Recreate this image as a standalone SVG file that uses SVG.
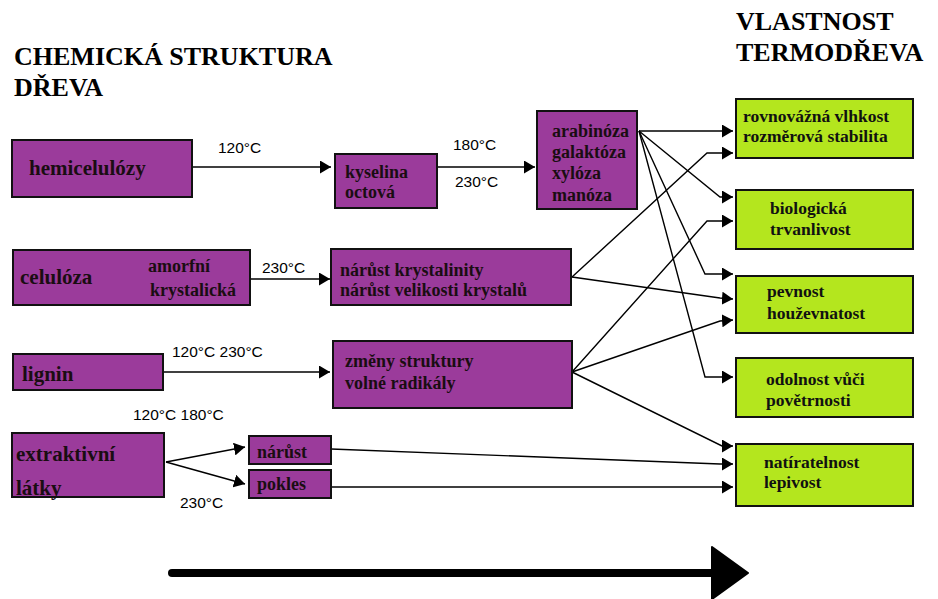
<svg xmlns="http://www.w3.org/2000/svg" width="938" height="599" viewBox="0 0 938 599">
<style>
.title{font-family:"Liberation Serif","Times New Roman",serif;font-weight:bold;font-size:26px;fill:#000}
.p{fill:#9B3B9B;stroke:#111;stroke-width:2}
.g{fill:#B4E61E;stroke:#111;stroke-width:2}
.tl{font-family:"Liberation Serif","Times New Roman",serif;font-weight:bold;font-size:21px;fill:#1a0d12}
.tm{font-family:"Liberation Serif","Times New Roman",serif;font-weight:bold;font-size:18px;fill:#1a0d12}
.tg{font-family:"Liberation Serif","Times New Roman",serif;font-weight:bold;font-size:17.5px;fill:#111}
.deg{font-family:"Liberation Sans",Arial,sans-serif;font-size:15.5px;fill:#000}
.c{fill:none;stroke:#000;stroke-width:1.4;marker-end:url(#ah)}
</style>
<defs>
<marker id="ah" viewBox="0 0 11 13" refX="11" refY="6.5" markerWidth="11" markerHeight="13" markerUnits="userSpaceOnUse" orient="auto">
<path d="M0,0 L11,6.5 L0,13 z" fill="#000"/>
</marker>
</defs>
<rect width="938" height="599" fill="#fff"/>

<g id="titles">
<text class="title" x="14" y="65">CHEMICKÁ STRUKTURA</text>
<text class="title" x="14" y="96">DŘEVA</text>
<text class="title" x="736" y="30" font-size="25.5">VLASTNOST</text>
<text class="title" x="736" y="61" font-size="25.5">TERMODŘEVA</text>
</g>

<g id="connectors">
<polyline class="c" points="192,167 331,167"/>
<polyline class="c" points="437,167 535,167"/>
<polyline class="c" points="250,279 330,279"/>
<polyline class="c" points="163,372 330,372"/>
<polyline class="c" points="166,462 245,447"/>
<polyline class="c" points="166,462 245,484"/>
<polyline class="c" points="639,131 733,131"/>
<polyline class="c" points="639,131 720,197 733,197"/>
<polyline class="c" points="639,131 705,274 733,274"/>
<polyline class="c" points="639,131 705,377 733,377"/>
<polyline class="c" points="572,277 707,153 733,153"/>
<polyline class="c" points="572,277 720,298 733,299"/>
<polyline class="c" points="572,372 707,221 733,221"/>
<polyline class="c" points="572,372 720,321 733,320"/>
<polyline class="c" points="572,372 722,446 733,446"/>
<polyline class="c" points="331,449 720,464 733,464"/>
<polyline class="c" points="331,487 733,487"/>
<line x1="172" y1="573" x2="714" y2="573" stroke="#000" stroke-width="8" stroke-linecap="round"/>
<polygon points="712,547 748,573 712,599" fill="#000" stroke="#000" stroke-width="2" stroke-linejoin="round"/>
</g>

<g id="labels">
<text class="deg" x="218" y="153">120°C</text>
<text class="deg" x="453" y="150">180°C</text>
<text class="deg" x="455" y="187">230°C</text>
<text class="deg" x="262" y="273">230°C</text>
<text class="deg" x="172" y="357">120°C 230°C</text>
<text class="deg" x="133" y="420">120°C 180°C</text>
<text class="deg" x="180" y="508">230°C</text>
</g>

<g id="hemiceluloza">
<rect class="p" x="12" y="140" width="180" height="57"/>
<text class="tl" x="29" y="175">hemicelulózy</text>
</g>
<g id="kyselina">
<rect class="p" x="335" y="154" width="102" height="54"/>
<text class="tm" x="345" y="178">kyselina</text>
<text class="tm" x="345" y="198">octová</text>
</g>
<g id="cukry">
<rect class="p" x="537" y="111" width="100" height="98"/>
<text class="tm" x="552" y="137">arabinóza</text>
<text class="tm" x="552" y="158">galaktóza</text>
<text class="tm" x="552" y="179">xylóza</text>
<text class="tm" x="552" y="201">manóza</text>
</g>
<g id="celuloza">
<rect class="p" x="13" y="250" width="237" height="55"/>
<text class="tl" x="20" y="284">celulóza</text>
<text class="tm" x="148" y="272">amorfní</text>
<text class="tm" x="150" y="296">krystalická</text>
</g>
<g id="krystalinita">
<rect class="p" x="331" y="249" width="240" height="56"/>
<text class="tm" x="340" y="276">nárůst krystalinity</text>
<text class="tm" x="340" y="296">nárůst velikosti krystalů</text>
</g>
<g id="lignin">
<rect class="p" x="13" y="354" width="150" height="36"/>
<text class="tl" x="22" y="381">lignin</text>
</g>
<g id="zmeny">
<rect class="p" x="333" y="341" width="239" height="67"/>
<text class="tm" x="345" y="367">změny struktury</text>
<text class="tm" x="345" y="389">volné radikály</text>
</g>
<g id="extraktivni">
<rect class="p" x="12" y="433" width="152" height="64"/>
<text class="tl" x="16" y="461">extraktivní</text>
<text class="tl" x="16" y="495">látky</text>
</g>
<g id="narust">
<rect class="p" x="249" y="436" width="82" height="28"/>
<text class="tm" x="257" y="458">nárůst</text>
</g>
<g id="pokles">
<rect class="p" x="249" y="470" width="82" height="28"/>
<text class="tm" x="257" y="490">pokles</text>
</g>

<g id="vlhkost">
<rect class="g" x="736" y="99" width="177" height="59"/>
<text class="tg" x="743" y="122">rovnovážná vlhkost</text>
<text class="tg" x="743" y="142">rozměrová stabilita</text>
</g>
<g id="trvanlivost">
<rect class="g" x="736" y="190" width="177" height="59"/>
<text class="tg" x="770" y="214">biologická</text>
<text class="tg" x="770" y="235">trvanlivost</text>
</g>
<g id="pevnost">
<rect class="g" x="736" y="276" width="177" height="57"/>
<text class="tg" x="767" y="297">pevnost</text>
<text class="tg" x="767" y="319">houževnatost</text>
</g>
<g id="odolnost">
<rect class="g" x="736" y="358" width="177" height="59"/>
<text class="tg" x="766" y="385">odolnost vůči</text>
<text class="tg" x="766" y="406">povětrnosti</text>
</g>
<g id="natiratelnost">
<rect class="g" x="736" y="444" width="177" height="62"/>
<text class="tg" x="764" y="468">natíratelnost</text>
<text class="tg" x="764" y="488">lepivost</text>
</g>
</svg>
